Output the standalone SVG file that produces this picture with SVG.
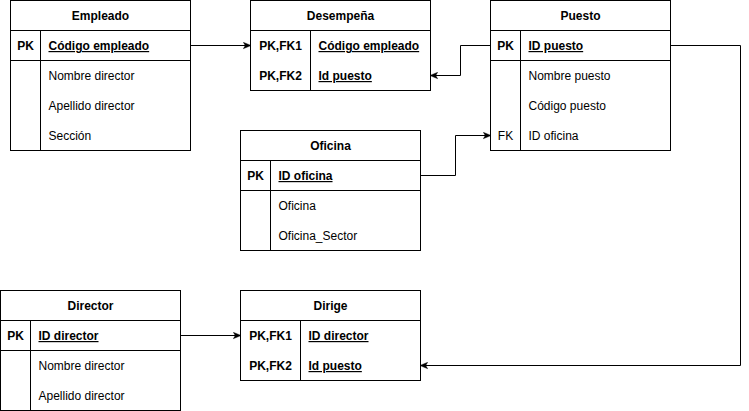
<svg xmlns="http://www.w3.org/2000/svg" width="749" height="411" viewBox="0 0 749 411">
<style>
.box{fill:#fff;stroke:#000;stroke-width:1}
.ln{stroke:#000;stroke-width:1;fill:none}
text{font-family:"Liberation Sans",Arial,sans-serif;font-size:12px;fill:#000}
.h{font-weight:bold;text-anchor:middle}
.k{font-weight:bold;text-anchor:middle}
.pk{font-weight:bold;text-decoration:underline}
.c{text-anchor:middle}
.con{stroke:#000;stroke-width:1;fill:none;marker-end:url(#arr)}
</style>
<defs>
<marker id="arr" viewBox="0 0 10 10" refX="9" refY="5" markerWidth="8" markerHeight="8" markerUnits="userSpaceOnUse" orient="auto">
<path d="M0,1 L10,5 L0,9 L2.5,5 Z" fill="#000" stroke="#000" stroke-width="0.5"/>
</marker>
</defs>
<g id="Empleado">
<rect class="box" x="10.5" y="0.5" width="180" height="150"/>
<path class="ln" d="M10.5,30.5 H190.5 M10.5,60.5 H190.5 M40.5,30.5 V150.5"/>
<text class="h" x="100.5" y="20">Empleado</text>
<text class="k" x="25.5" y="50">PK</text>
<text class="pk" x="48.5" y="50">Código empleado</text>
<text x="48.5" y="80">Nombre director</text>
<text x="48.5" y="110">Apellido director</text>
<text x="48.5" y="140">Sección</text>
</g>
<g id="Desempena">
<rect class="box" x="250.5" y="0.5" width="180" height="90"/>
<path class="ln" d="M250.5,30.5 H430.5 M310.5,30.5 V90.5"/>
<text class="h" x="340.5" y="20">Desempeña</text>
<text class="k" x="280.5" y="50">PK,FK1</text>
<text class="pk" x="318.5" y="50">Código empleado</text>
<text class="k" x="280.5" y="80">PK,FK2</text>
<text class="pk" x="318.5" y="80">Id puesto</text>
</g>
<g id="Puesto">
<rect class="box" x="490.5" y="0.5" width="180" height="150"/>
<path class="ln" d="M490.5,30.5 H670.5 M490.5,60.5 H670.5 M520.5,30.5 V150.5"/>
<text class="h" x="580.5" y="20">Puesto</text>
<text class="k" x="505.5" y="50">PK</text>
<text class="pk" x="528.5" y="50">ID puesto</text>
<text x="528.5" y="80">Nombre puesto</text>
<text x="528.5" y="110">Código puesto</text>
<text class="c" x="505.5" y="140">FK</text>
<text x="528.5" y="140">ID oficina</text>
</g>
<g id="Oficina">
<rect class="box" x="240.5" y="130.5" width="180" height="120"/>
<path class="ln" d="M240.5,160.5 H420.5 M240.5,190.5 H420.5 M270.5,160.5 V250.5"/>
<text class="h" x="330.5" y="150">Oficina</text>
<text class="k" x="255.5" y="180">PK</text>
<text class="pk" x="278.5" y="180">ID oficina</text>
<text x="278.5" y="210">Oficina</text>
<text x="278.5" y="240">Oficina_Sector</text>
</g>
<g id="Director">
<rect class="box" x="0.5" y="290.5" width="180" height="120"/>
<path class="ln" d="M0.5,320.5 H180.5 M0.5,350.5 H180.5 M30.5,320.5 V410.5"/>
<text class="h" x="90.5" y="310">Director</text>
<text class="k" x="15.5" y="340">PK</text>
<text class="pk" x="38.5" y="340">ID director</text>
<text x="38.5" y="370">Nombre director</text>
<text x="38.5" y="400">Apellido director</text>
</g>
<g id="Dirige">
<rect class="box" x="240.5" y="290.5" width="180" height="90"/>
<path class="ln" d="M240.5,320.5 H420.5 M300.5,320.5 V380.5"/>
<text class="h" x="330.5" y="310">Dirige</text>
<text class="k" x="270.5" y="340">PK,FK1</text>
<text class="pk" x="308.5" y="340">ID director</text>
<text class="k" x="270.5" y="370">PK,FK2</text>
<text class="pk" x="308.5" y="370">Id puesto</text>
</g>
<g id="connectors">
<path class="con" d="M190.5,45.5 H250.5"/>
<path class="con" d="M490.5,45.5 H460.5 V75.5 H430.5"/>
<path class="con" d="M420.5,175.5 H455.5 V135.5 H490.5"/>
<path class="con" d="M670.5,45.5 H740.5 V365.5 H420.5"/>
<path class="con" d="M180.5,335.5 H240.5"/>
</g>
</svg>
